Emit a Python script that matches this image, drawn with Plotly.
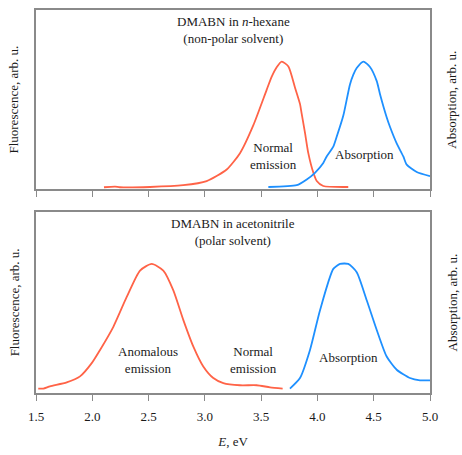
import plotly.graph_objects as go
from plotly.subplots import make_subplots

# Top panel: DMABN in n-hexane
hex_em_E = [2.104, 2.202, 2.246, 2.513, 2.808, 3.016, 3.194, 3.312, 3.430, 3.549, 3.594, 3.638, 3.683,
            3.742, 3.801, 3.845, 3.860, 3.890, 3.919, 3.964, 3.994, 4.052, 4.274]
hex_em_I = [0.000, 0.005, 0.000, 0.002, 0.016, 0.049, 0.141, 0.271, 0.492, 0.775, 0.880, 0.955, 1.000,
            0.961, 0.792, 0.663, 0.585, 0.430, 0.271, 0.115, 0.050, 0.010, 0.002]
hex_abs_E = [3.564, 3.816, 3.905, 3.978, 4.052, 4.082, 4.141, 4.171, 4.230, 4.289, 4.319, 4.349,
             4.408, 4.467, 4.527, 4.556, 4.615, 4.645, 4.704, 4.763, 4.793, 4.882, 5.000]
hex_abs_I = [0.002, 0.016, 0.062, 0.115, 0.193, 0.245, 0.323, 0.401, 0.570, 0.818, 0.896, 0.948,
             1.000, 0.957, 0.844, 0.740, 0.557, 0.479, 0.349, 0.245, 0.180, 0.121, 0.088]

# Bottom panel: DMABN in acetonitrile
acn_em_E = [1.520, 1.565, 1.624, 1.773, 1.891, 1.995, 2.069, 2.187, 2.306, 2.424, 2.528, 2.631,
            2.720, 2.809, 2.898, 2.986, 3.075, 3.164, 3.312, 3.461, 3.579, 3.691]
acn_em_I = [0.019, 0.019, 0.037, 0.068, 0.115, 0.219, 0.323, 0.505, 0.740, 0.948, 1.000, 0.948,
            0.792, 0.558, 0.349, 0.193, 0.102, 0.062, 0.045, 0.045, 0.029, 0.019]
acn_abs_E = [3.756, 3.845, 3.934, 4.023, 4.141, 4.201, 4.274, 4.349, 4.438, 4.527, 4.615, 4.704,
             4.822, 4.911, 5.000]
acn_abs_I = [0.019, 0.102, 0.323, 0.636, 0.961, 1.000, 1.000, 0.935, 0.714, 0.480, 0.271, 0.167,
             0.102, 0.084, 0.084]

tick_vals = [1.5, 2.0, 2.5, 3.0, 3.5, 4.0, 4.5, 5.0]
tick_text = ["1.5", "2.0", "2.5", "3.0", "3.5", "4.0", "4.5", "5.0"]

RED = "#FF6347"
BLUE = "#1E90FF"
AX = "#8a8a8a"
TXT = "#1a1a1a"
FONT = "Liberation Serif, Times New Roman, serif"

fig = make_subplots(rows=2, cols=1, vertical_spacing=0.0)

line_kw = dict(width=1.8, shape="spline", smoothing=0.6)
fig.add_trace(go.Scatter(x=hex_em_E, y=hex_em_I, mode="lines", line=dict(color=RED, **line_kw)), row=1, col=1)
fig.add_trace(go.Scatter(x=hex_abs_E, y=hex_abs_I, mode="lines", line=dict(color=BLUE, **line_kw)), row=1, col=1)
fig.add_trace(go.Scatter(x=acn_em_E, y=acn_em_I, mode="lines", line=dict(color=RED, **line_kw)), row=2, col=1)
fig.add_trace(go.Scatter(x=acn_abs_E, y=acn_abs_I, mode="lines", line=dict(color=BLUE, **line_kw)), row=2, col=1)

xcommon = dict(range=[1.5, 5.0], tickmode="array", tickvals=tick_vals, ticks="outside", ticklen=6,
               tickcolor=AX, tickwidth=1, showline=True, linecolor=AX, linewidth=1.5, mirror=True,
               showgrid=False, zeroline=False)
ycommon = dict(range=[-0.016, 1.41], showticklabels=False, ticks="", showline=True, linecolor=AX,
               linewidth=1.5, mirror=True, showgrid=False, zeroline=False)

fig.update_layout(
    width=462, height=455, showlegend=False,
    margin=dict(l=36, r=32, t=8, b=58),
    plot_bgcolor="white", paper_bgcolor="white",
    font=dict(family=FONT, size=13, color=TXT),
    xaxis=dict(**xcommon, showticklabels=False, anchor="y"),
    xaxis2=dict(**xcommon, ticktext=tick_text, showticklabels=True, anchor="y2",
                ticklabelstandoff=5,
                title=dict(text="<i>E</i>, eV", font=dict(size=13), standoff=14)),
    yaxis=dict(**ycommon, domain=[0.532, 1.0]),
    yaxis2=dict(**ycommon, domain=[0.0, 0.473]),
)

ann = []
def A(text, x, y, xref, yref, **kw):
    ann.append(dict(text=text, x=x, y=y, xref=xref, yref=yref, showarrow=False,
                    xanchor="center", yanchor="middle",
                    font=dict(family=FONT, size=13, color=TXT), **kw))

A("DMABN in <i>n</i>-hexane<br>(non-polar solvent)", 3.25, 1.25, "x", "y")
A("Normal<br>emission", 3.614, 0.246, "x", "y")
A("Absorption", 4.42, 0.258, "x", "y")
A("DMABN in acetonitrile<br>(polar solvent)", 3.25, 1.25, "x2", "y2")
A("Anomalous<br>emission", 2.495, 0.244, "x2", "y2")
A("Normal<br>emission", 3.428, 0.244, "x2", "y2")
A("Absorption", 4.272, 0.263, "x2", "y2")

for yc in [0.766, 0.2365]:
    A("Fluorescence, arb. u.", -0.056, yc, "paper", "paper", textangle=-90)
    A("Absorption, arb. u.", 1.056, yc, "paper", "paper", textangle=-90)

fig.update_layout(annotations=ann)
fig.write_html("out.html", config={"displayModeBar": False},
               post_script="document.body.style.margin='0px';document.body.style.overflow='hidden';")
